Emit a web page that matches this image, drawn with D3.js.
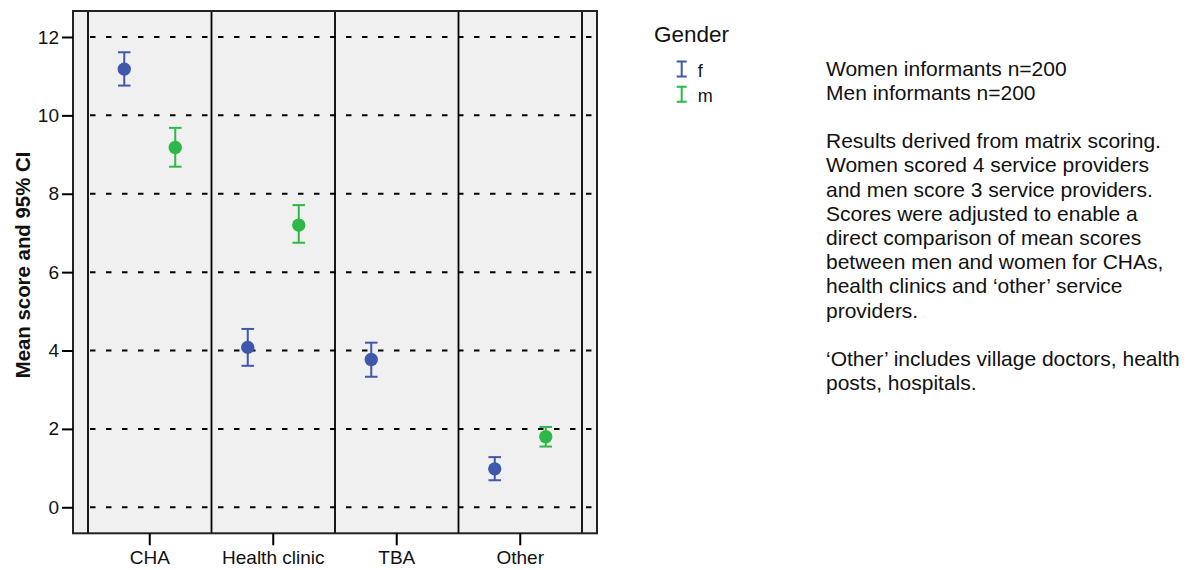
<!DOCTYPE html>
<html>

<head>
    <meta charset="utf-8">
    <script src="https://d3js.org/d3.v7.min.js"></script>
    <style>
        body {
            margin: 0;
            background: #fff;
            font-family: 'Liberation Sans', Arial, sans-serif;
        }
    </style>
</head>

<body>
    <div id="chart"></div>

    <script>
        // Values
        var categories = ["CHA", "Health clinic", "TBA", "Other"];
        var genders = ["f", "m"];
        var femaleMean = [11.18, 4.08, 3.77, 0.98];
        var femaleLow = [10.76, 3.61, 3.33, 0.69];
        var femaleHigh = [11.61, 4.55, 4.20, 1.28];
        var maleMean = [9.18, 7.20, null, 1.80];
        var maleLow = [8.69, 6.75, null, 1.55];
        var maleHigh = [9.68, 7.71, null, 2.05];
        var yTicks = [0, 2, 4, 6, 8, 10, 12];
        var notes = [
            "Women informants n=200",
            "Men informants n=200",
            "",
            "Results derived from matrix scoring.",
            "Women scored 4 service providers",
            "and men score 3 service providers.",
            "Scores were adjusted to enable a",
            "direct comparison of mean scores",
            "between men and women for CHAs,",
            "health clinics and \u2018other\u2019 service",
            "providers.",
            "",
            "\u2018Other\u2019 includes village doctors, health",
            "posts, hospitals."
        ];

        var width = 1194, height = 570;
        var frame = { left: 73, right: 597, top: 11, bottom: 533.3 };

        var color = d3.scaleOrdinal()
            .domain(genders)
            .range(["#3E58AC", "#2EB848"]);

        // build one row per point
        var points = [];
        categories.forEach(function (c, i) {
            points.push({ cat: c, g: "f", mean: femaleMean[i], lo: femaleLow[i], hi: femaleHigh[i] });
            if (maleMean[i] != null)
                points.push({ cat: c, g: "m", mean: maleMean[i], lo: maleLow[i], hi: maleHigh[i] });
        });

        var x = d3.scaleBand()
            .domain(categories)
            .range([88, 582])
            .padding(0);

        var xSub = d3.scalePoint()
            .domain(genders)
            .range([-25.5, 25.5]);

        var y = d3.scaleLinear()
            .domain([-0.664, 12.663])
            .range([frame.bottom, frame.top]);

        var svg = d3.select("#chart").append("svg")
            .attr("width", width)
            .attr("height", height);

        // plot background
        svg.append("rect")
            .attr("x", frame.left)
            .attr("y", frame.top)
            .attr("width", frame.right - frame.left)
            .attr("height", frame.bottom - frame.top)
            .attr("fill", "#F0F0F0");

        // dashed grid lines (start at the first panel line)
        svg.append("g")
            .selectAll("line")
            .data(yTicks)
            .enter()
            .append("line")
            .attr("x1", x.range()[0])
            .attr("x2", frame.right)
            .attr("y1", d => y(d))
            .attr("y2", d => y(d))
            .attr("stroke", "#000")
            .attr("stroke-width", 2)
            .attr("stroke-dasharray", "5.5,10.5")
            .attr("stroke-dashoffset", 14);

        // panel separators
        var seps = categories.map(c => x(c)).concat([x.range()[1]]);
        svg.append("g")
            .selectAll("line")
            .data(seps)
            .enter()
            .append("line")
            .attr("x1", d => d)
            .attr("x2", d => d)
            .attr("y1", frame.top)
            .attr("y2", frame.bottom)
            .attr("stroke", "#000")
            .attr("stroke-width", 1.8);

        // frame
        svg.append("rect")
            .attr("x", frame.left)
            .attr("y", frame.top)
            .attr("width", frame.right - frame.left)
            .attr("height", frame.bottom - frame.top)
            .attr("fill", "none")
            .attr("stroke", "#222")
            .attr("stroke-width", 2);

        // y axis
        var yAxis = svg.append("g")
            .attr("transform", "translate(" + frame.left + ",0)")
            .call(d3.axisLeft(y).tickValues(yTicks).tickSize(11).tickPadding(3));
        yAxis.select(".domain").remove();
        yAxis.selectAll(".tick line").attr("stroke", "#000").attr("stroke-width", 2);
        yAxis.selectAll(".tick text")
            .attr("fill", "#111")
            .style("font-family", "'Liberation Sans', Arial, sans-serif")
            .style("font-size", "19px");

        // x axis
        var xAxis = svg.append("g")
            .attr("transform", "translate(0," + frame.bottom + ")")
            .call(d3.axisBottom(x).tickSize(12).tickPadding(5));
        xAxis.select(".domain").remove();
        xAxis.selectAll(".tick line").attr("stroke", "#000").attr("stroke-width", 2);
        xAxis.selectAll(".tick text")
            .attr("fill", "#111")
            .style("font-family", "'Liberation Sans', Arial, sans-serif")
            .style("font-size", "19px");

        // y title
        svg.append("text")
            .attr("transform", "translate(30," + 265 + ") rotate(-90)")
            .attr("text-anchor", "middle")
            .style("font-size", "20.4px")
            .style("font-weight", "bold")
            .attr("fill", "#111")
            .text("Mean score and 95% CI");

        // error bars and points
        var capHalf = 6.3;
        var marks = svg.append("g")
            .selectAll("g")
            .data(points)
            .enter()
            .append("g")
            .attr("transform", d => "translate(" + (x(d.cat) + x.bandwidth() / 2 + xSub(d.g)) + ",0)");

        marks.append("line")
            .attr("x1", 0).attr("x2", 0)
            .attr("y1", d => y(d.lo))
            .attr("y2", d => y(d.hi))
            .attr("stroke", d => color(d.g))
            .attr("stroke-width", 2);

        marks.append("line")
            .attr("x1", -capHalf).attr("x2", capHalf)
            .attr("y1", d => y(d.hi)).attr("y2", d => y(d.hi))
            .attr("stroke", d => color(d.g))
            .attr("stroke-width", 2);

        marks.append("line")
            .attr("x1", -capHalf).attr("x2", capHalf)
            .attr("y1", d => y(d.lo)).attr("y2", d => y(d.lo))
            .attr("stroke", d => color(d.g))
            .attr("stroke-width", 2);

        marks.append("circle")
            .attr("cx", 0)
            .attr("cy", d => y(d.mean))
            .attr("r", 6.7)
            .attr("fill", d => color(d.g));

        // legend
        var legend = svg.append("g");
        legend.append("text")
            .attr("x", 654)
            .attr("y", 42)
            .style("font-size", "22.5px")
            .attr("fill", "#111")
            .text("Gender");

        var item = legend.selectAll("g.item")
            .data(genders)
            .enter()
            .append("g")
            .attr("class", "item")
            .attr("transform", (d, i) => "translate(681.7," + (69 + i * 25.3) + ")");

        item.append("path")
            .attr("d", "M-5,-7.5H5M0,-7.5V7.5M-5,7.5H5")
            .attr("stroke", d => color(d))
            .attr("stroke-width", 2)
            .attr("fill", "none");

        item.append("text")
            .attr("x", 16)
            .attr("y", 7.5)
            .style("font-size", "18px")
            .attr("fill", "#111")
            .text(d => d);

        // notes
        svg.append("text")
            .attr("x", 826)
            .attr("y", 75.5)
            .style("font-size", "21px")
            .attr("fill", "#111")
            .selectAll("tspan")
            .data(notes)
            .enter()
            .append("tspan")
            .attr("x", 826)
            .attr("y", (d, i) => 75.5 + i * 24.2)
            .text(d => d);
    </script>
</body>

</html>
